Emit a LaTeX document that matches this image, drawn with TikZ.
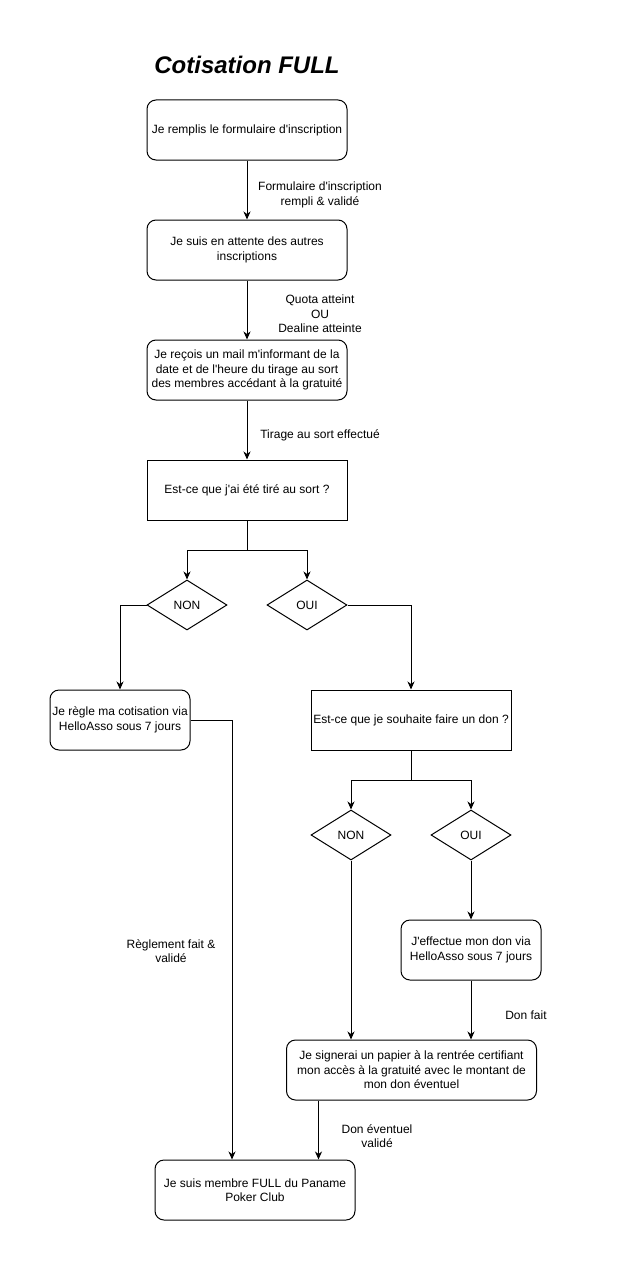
\documentclass[tikz,border=0pt]{standalone}
\usepackage{fontspec}
\setmainfont{Liberation Sans}[Ligatures=TeXOff]
\usetikzlibrary{arrows.meta,positioning,shapes.geometric}

\begin{document}
\begin{tikzpicture}[x=1pt,y=-1pt,
    boxround/.style={draw, line width=1pt, rounded corners=9pt, minimum height=60pt, align=center, inner sep=0pt},
    boxsharp/.style={draw, line width=1pt, minimum height=60pt, align=center, inner sep=0pt},
    choice/.style={draw, line width=1pt, diamond, minimum width=80pt, minimum height=50pt, inner sep=0pt},
    lbl/.style={align=center, inner sep=0pt},
    arr/.style={line width=1pt, -{Stealth[length=8pt,width=7pt,inset=2.5pt]}},
    every node/.style={font=\fontsize{12}{14.4}\selectfont}]
                        \useasboundingbox (0,0) rectangle (623,1271);

                        % Title
                        \node (titre) at (247,65) {\fontsize{24}{28}\selectfont\bfseries\itshape Cotisation FULL};

                        % Drawing boxes of the main column
                        \node[boxround, minimum width=200pt] (remplis) at (247,130) {Je remplis le formulaire d'inscription};
                        \node[boxround, minimum width=200pt] (attente) at (247,250) {Je suis en attente des autres\\inscriptions};
                        \node[boxround, minimum width=200pt] (mail) at (247,370) {Je reçois un mail m'informant de la\\date et de l'heure du tirage au sort\\des membres accédant à la gratuité};
                        \node[boxsharp, minimum width=200pt] (tirage) at (247,490) {Est-ce que j'ai été tiré au sort ?};

                        % Drawing choices NON / OUI
                        \node[choice] (non1) at (187,605) {NON};
                        \node[choice] (oui1) at (307,605) {OUI};

                        % Drawing left branch
                        \node[boxround, minimum width=140pt] (regle) at (120,720) {Je règle ma cotisation via\\HelloAsso sous 7 jours};

                        % Drawing right branch
                        \node[boxsharp, minimum width=200pt] (don) at (411,720) {Est-ce que je souhaite faire un don ?};
                        \node[choice] (non2) at (351,835) {NON};
                        \node[choice] (oui2) at (471,835) {OUI};
                        \node[boxround, minimum width=140pt] (effectue) at (471,950) {J'effectue mon don via\\HelloAsso sous 7 jours};
                        \node[boxround, minimum width=250pt] (signe) at (411.5,1070) {Je signerai un papier à la rentrée certifiant\\mon accès à la gratuité avec le montant de\\mon don éventuel};

                        % Drawing final box
                        \node[boxround, minimum width=200pt] (membre) at (255,1190) {Je suis membre FULL du Paname\\Poker Club};

                        % Drawing arrows of the main column
                        \draw[arr] (remplis) -- (attente);%
                        \draw[arr] (attente) -- (mail);%
                        \draw[arr] (mail) -- (tirage);%

                        % Drawing split under tirage
                        \coordinate (split1) at ([yshift=-30pt]tirage.south);
                        \draw[arr] (tirage.south) -- (split1) -| (non1.north);%
                        \draw[arr] (tirage.south) -- (split1) -| (oui1.north);%
                        \draw[arr] (non1.west) -| (regle.north);%
                        \draw[arr] (oui1.east) -| (don.north);%

                        % Drawing split under don
                        \coordinate (split2) at ([yshift=-30pt]don.south);
                        \draw[arr] (don.south) -- (split2) -| (non2.north);%
                        \draw[arr] (don.south) -- (split2) -| (oui2.north);%
                        \draw[arr] (non2.south) -- (non2.south |- signe.north);%
                        \draw[arr] (oui2.south) -- (effectue.north);%
                        \draw[arr] (effectue.south) -- (effectue.south |- signe.north);%

                        % Drawing arrows into final box
                        \coordinate (regleout) at ([xshift=-23pt]membre.north);
                        \draw[arr] (regle.east) -| (regleout);%
                        \coordinate (signeout) at ([xshift=-93pt]signe.south);
                        \draw[arr] (signeout) -- (signeout |- membre.north);%

                        % Marking labels
                        \node[lbl] (lblrempli) at (320,195) {Formulaire d'inscription\\rempli \& validé};
                        \node[lbl] (lblquota) at (320,314) {Quota atteint\\OU\\Dealine atteinte};
                        \node[lbl] (lbltirage) at (320,435) {Tirage au sort effectué};
                        \node[lbl] (lblregle) at (171,951) {Règlement fait \&\\validé};
                        \node[lbl] (lbldon) at (526,1015) {Don fait};
                        \node[lbl] (lbleventuel) at (377,1136) {Don éventuel\\validé};
                    \end{tikzpicture}
\end{document}
